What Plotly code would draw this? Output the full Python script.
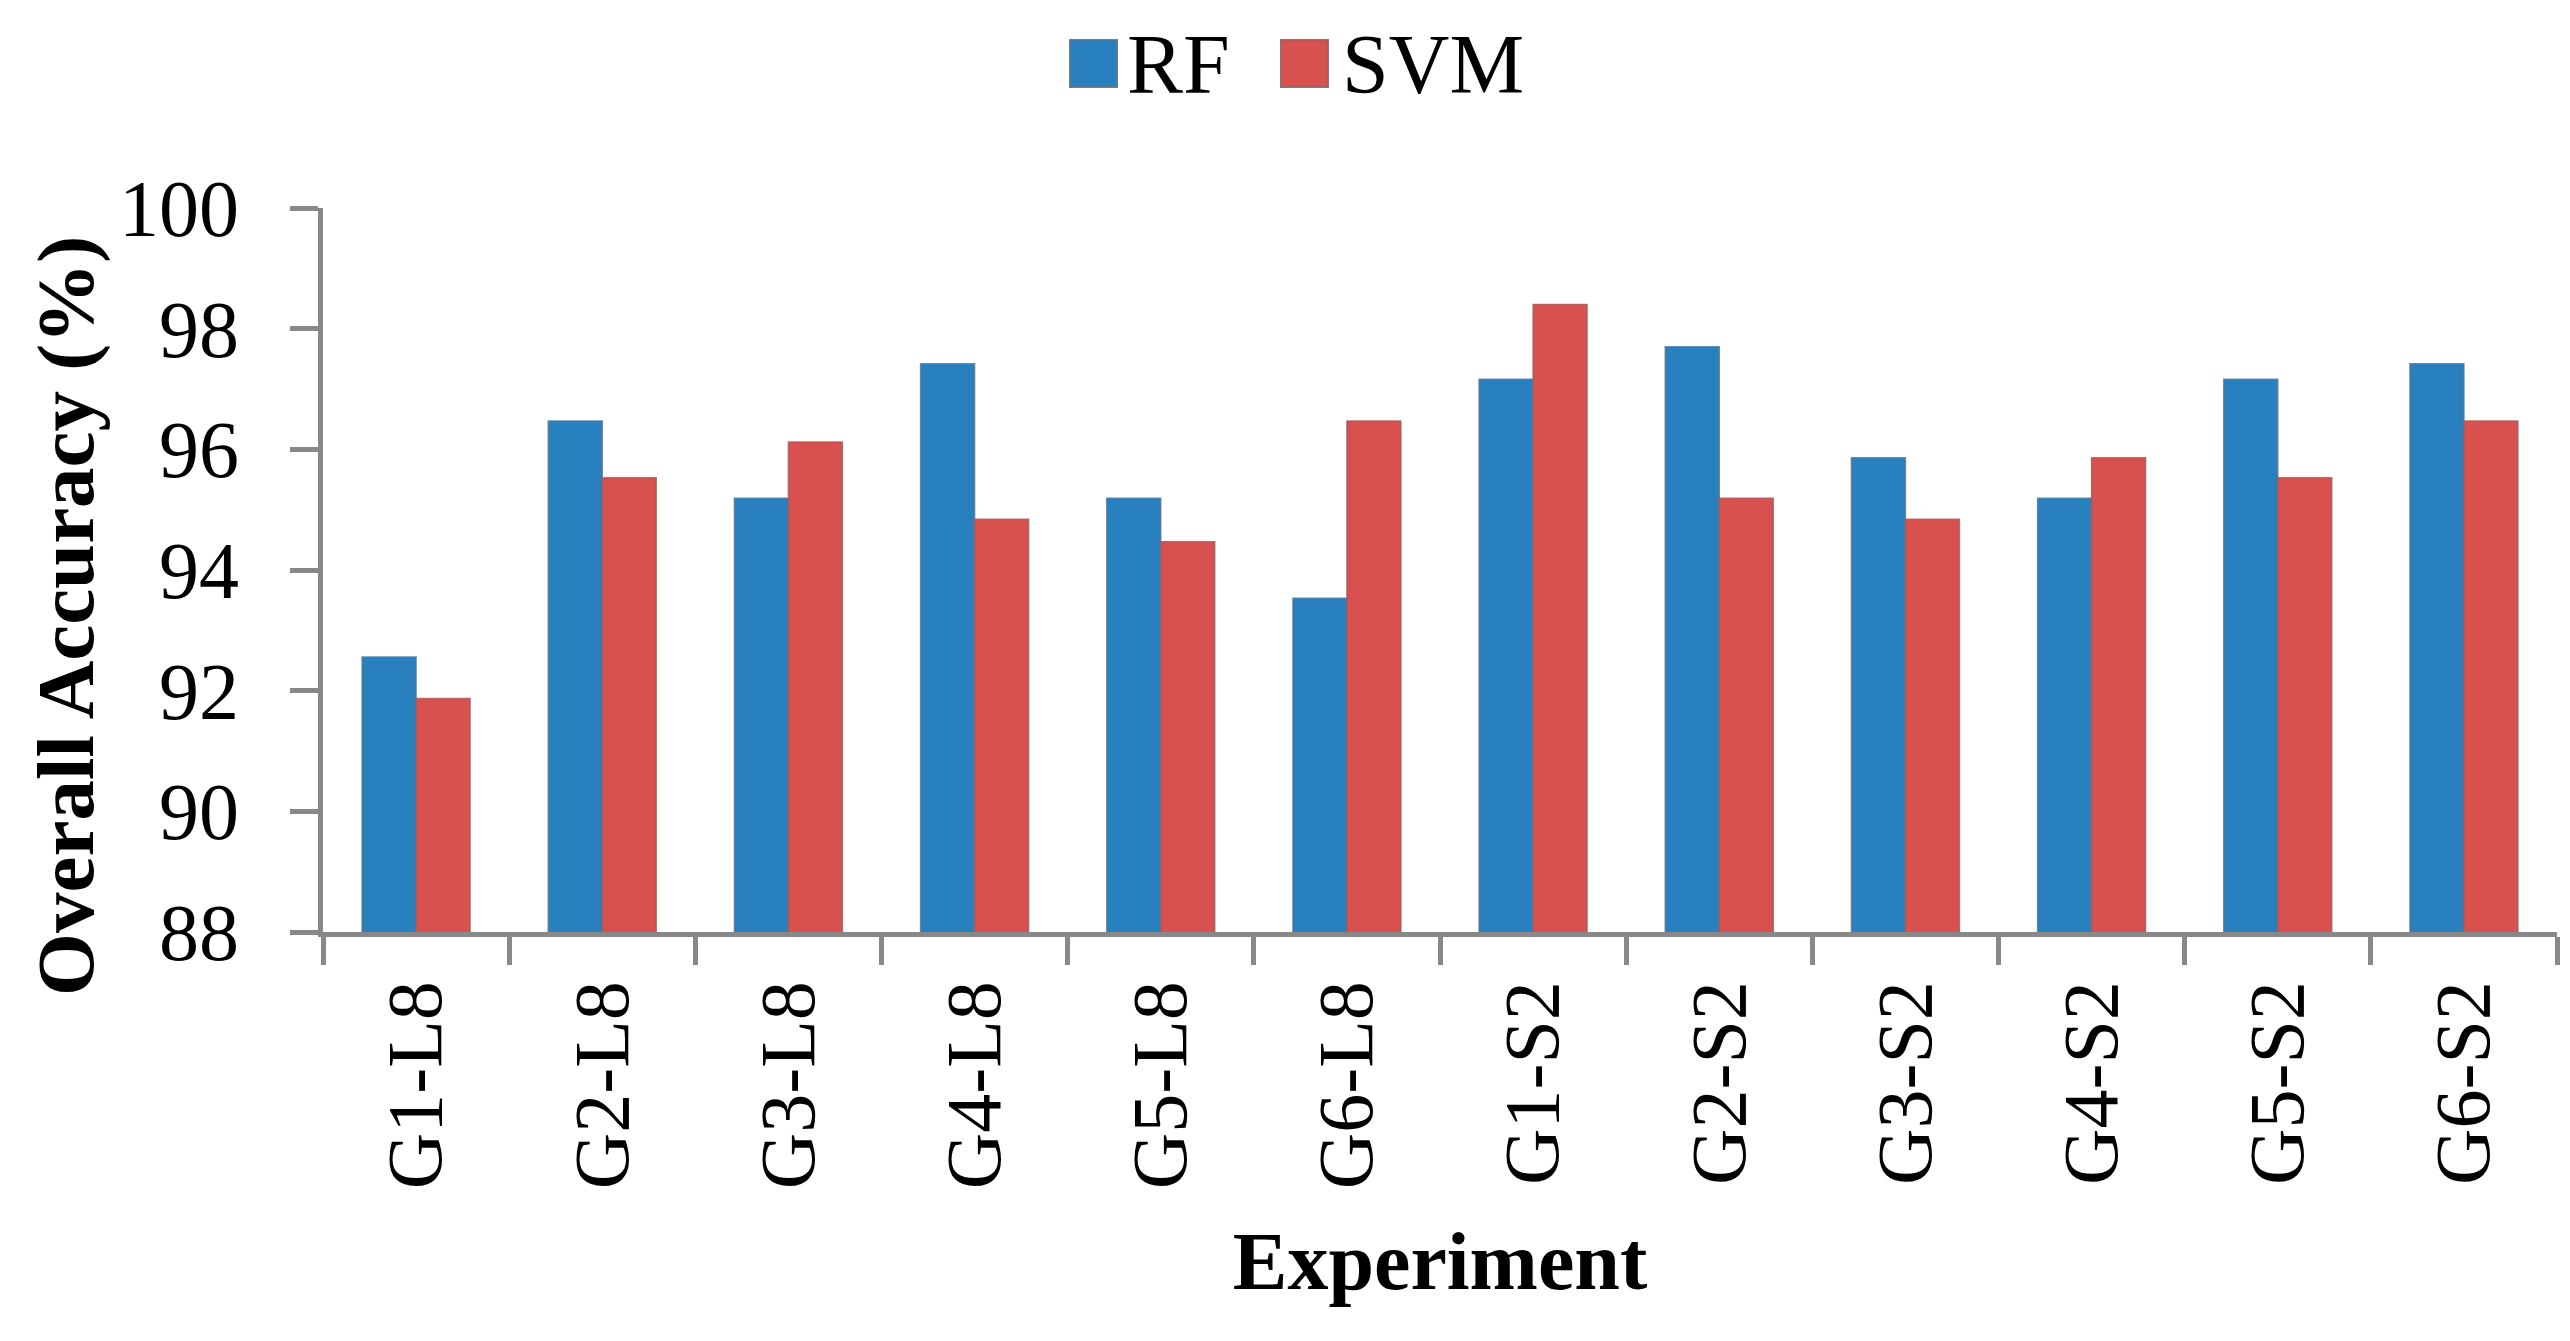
import plotly.graph_objects as go

categories = ["G1-L8", "G2-L8", "G3-L8", "G4-L8", "G5-L8", "G6-L8",
              "G1-S2", "G2-S2", "G3-S2", "G4-S2", "G5-S2", "G6-S2"]
rf_values = [92.56, 96.47, 95.19, 97.42, 95.19, 93.53,
             97.16, 97.70, 95.86, 95.19, 97.16, 97.42]
svm_values = [91.87, 95.53, 96.12, 94.84, 94.47, 96.47,
              98.40, 95.19, 94.84, 95.86, 95.53, 96.47]
y_ticks = [88, 90, 92, 94, 96, 98, 100]

BLUE = "#2980BE"
RED = "#D9514F"
AXIS = "#888888"
FONT = "Liberation Serif"

L, R, T, B = 315, 2549, 200, 924
W, H = R - L, B - T


def px(x):
    return (x - L) / W


def py(y):
    return (B - y) / H


fig = go.Figure()
fig.add_trace(go.Bar(name="RF", x=categories, y=rf_values,
                     marker=dict(color=BLUE, line=dict(color="rgba(90,115,140,0.8)", width=1.5))))
fig.add_trace(go.Bar(name="SVM", x=categories, y=svm_values,
                     marker=dict(color=RED, line=dict(color="rgba(150,95,95,0.8)", width=1.5))))

fig.update_layout(
    width=2570, height=1341,
    barmode="group", bargap=0.42, bargroupgap=0,
    plot_bgcolor="white", paper_bgcolor="white",
    margin=dict(l=L, r=2570 - R, t=T, b=1341 - B, autoexpand=False),
    showlegend=False,
    font=dict(family=FONT, color="black", size=78),
)
fig.update_yaxes(
    range=[88, 100], tickvals=y_ticks, ticks="outside", ticklen=28, tickwidth=5,
    tickcolor=AXIS, showline=True, linecolor=AXIS, linewidth=5, showgrid=False,
    zeroline=False, tickfont=dict(family=FONT, size=80, color="black"),
    ticklabelstandoff=35,
    automargin=False,
)
fig.update_xaxes(
    type="category", tickson="boundaries", ticks="outside", ticklen=28, tickwidth=5,
    tickcolor=AXIS, showline=True, linecolor=AXIS, linewidth=5, showgrid=False,
    tickangle=-90, tickfont=dict(family=FONT, size=78, color="black"),
    ticklabelstandoff=13,
    title=dict(text="Experiment", font=dict(family=FONT, size=82, color="black", weight="bold"), standoff=45),
    automargin=False,
)

# y-axis title (placed as in the original, slightly below the plot centre)
fig.add_annotation(text="Overall Accuracy (%)", xref="paper", yref="paper",
                   x=px(58), y=py(608), textangle=-90, showarrow=False,
                   xanchor="center", yanchor="middle",
                   font=dict(family=FONT, size=81, color="black", weight="bold"))

# custom legend (large swatches like the original)
legend_items = [("RF", BLUE, "rgba(90,115,140,0.9)", 1062, 1117),
                ("SVM", RED, "rgba(150,95,95,0.9)", 1273, 1332)]
for name, color, edge, sx, tx in legend_items:
    fig.add_shape(type="rect", xref="paper", yref="paper",
                  x0=px(sx), x1=px(sx + 47),
                  y0=py(79), y1=py(32),
                  fillcolor=color, line=dict(width=2, color=edge))
    fig.add_annotation(text=name, xref="paper", yref="paper",
                       x=px(tx), y=py(57),
                       xanchor="left", yanchor="middle", showarrow=False,
                       font=dict(family=FONT, size=84, color="black"))

fig.write_html("out.html")
